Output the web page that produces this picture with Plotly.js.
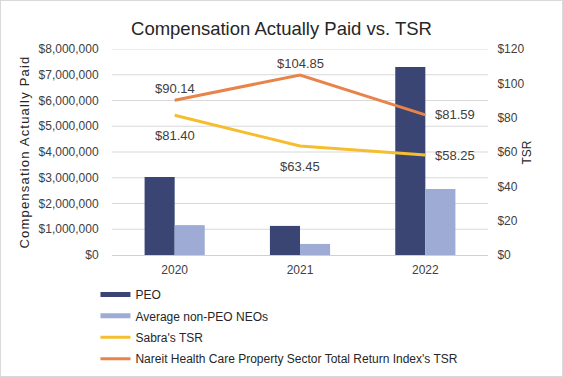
<!DOCTYPE html>
<html><head><meta charset="utf-8">
<script src="https://cdn.plot.ly/plotly-3.0.1.min.js"></script>
<style>html,body{margin:0;padding:0;background:#fff;}#wrap{width:561px;height:375px;border:1px solid #d9d9d9;}#chart{width:561px;height:375px;}
.ytitle{letter-spacing:1.2px;}</style>
</head><body><div id="wrap"><div id="chart"></div></div>
<script>
const years = ['2020','2021','2022'];
const peo = [3030000, 1130000, 7300000];
const nonPeo = [1160000, 430000, 2560000];
const sabraTSR = [81.40, 63.45, 58.25];
const nareitTSR = [90.14, 104.85, 81.59];
const seriesNames = ['PEO', 'Average non-PEO NEOs', "Sabra's TSR", "Nareit Health Care Property Sector Total Return Index's TSR"];
const colors = ['#3A4574', '#9EABD4', '#F5BE2E', '#E8834A'];
const leftTicks = [1000000, 2000000, 3000000, 4000000, 5000000, 6000000, 7000000, 8000000];
const fam = 'Liberation Sans, Arial, sans-serif';
const fmt = v => '$' + v.toFixed(2);
const noVals = years.map(() => null);

const traces = [
  {type:'bar', name:seriesNames[0], x:years, y:peo, marker:{color:colors[0]}, showlegend:false},
  {type:'bar', name:seriesNames[1], x:years, y:nonPeo, marker:{color:colors[1]}, showlegend:false},
  // legend swatches for the bar series (flat bars, as in the original)
  {type:'scatter', mode:'lines', name:seriesNames[0], x:years, y:noVals, line:{color:colors[0], width:5}, legendgroup:'a', legendrank:1},
  {type:'scatter', mode:'lines', name:seriesNames[1], x:years, y:noVals, line:{color:colors[1], width:5}, legendgroup:'b', legendrank:2},
  {type:'scatter', mode:'lines', name:seriesNames[2], x:years, y:sabraTSR, yaxis:'y2',
   line:{color:colors[2], width:3}, legendgroup:'c', legendrank:3},
  {type:'scatter', mode:'lines', name:seriesNames[3], x:years, y:nareitTSR, yaxis:'y2',
   line:{color:colors[3], width:3}, legendgroup:'d', legendrank:4}
];

const annotations = [];
function addLabels(vals, dy) {
  vals.forEach((v, i) => {
    const last = i === vals.length - 1;
    annotations.push({
      x: i, y: v, xref:'x', yref:'y2', text: fmt(v), showarrow:false,
      xanchor: last ? 'left' : 'center', yanchor:'middle',
      xshift: last ? 8 : 0, yshift: last ? 0 : dy,
      font:{size:13, color:'#404040', family:fam}
    });
  });
}
addLabels(nareitTSR, 12);
addLabels(sabraTSR, -20);
annotations.push({text:'TSR', xref:'paper', yref:'paper', x:1.105, y:0.5, xanchor:'center', yanchor:'middle',
  textangle:-90, showarrow:false, font:{size:12, color:'#262626', family:fam}});

// horizontal gridlines at the left-axis tick values
const shapes = leftTicks.map(t => ({type:'line', xref:'paper', yref:'y', x0:0, x1:1, y0:t, y1:t,
  line:{color:'#d9d9d9', width:1}, layer:'below'}));

const layout = {
  width:561, height:375,
  margin:{l:111, r:74, t:48, b:121, autoexpand:false},
  paper_bgcolor:'#fff', plot_bgcolor:'rgba(0,0,0,0)',
  font:{family:fam, color:'#404040', size:12},
  title:{text:'Compensation Actually Paid vs. TSR', font:{size:18.5, color:'#262626', family:fam}, x:0.5, xanchor:'center', y:0.926, yanchor:'middle'},
  barmode:'group', bargap:0.52, bargroupgap:0,
  xaxis:{type:'category', categoryorder:'array', categoryarray:years, range:[-0.5, 2.5], showgrid:false, showline:true, linecolor:'#d0d0d0',
    ticks:'outside', ticklen:4, tickcolor:'rgba(0,0,0,0)', tickfont:{size:12, color:'#404040'}},
  yaxis:{range:[0,8000000], dtick:1000000, tickformat:'$,.0f', showgrid:false, zeroline:false, showline:false,
    tickfont:{size:12, color:'#404040'}, ticklen:10, ticks:'outside', tickcolor:'rgba(0,0,0,0)',
    title:{text:'Compensation Actually Paid', font:{size:13, color:'#262626'}, standoff:5}},
  yaxis2:{overlaying:'y', side:'right', range:[0,120], dtick:20, tickprefix:'$', showgrid:false, zeroline:false,
    tickfont:{size:12, color:'#404040'}, ticks:'outside', ticklen:6, tickcolor:'rgba(0,0,0,0)'},
  annotations: annotations,
  shapes: shapes,
  showlegend:true,
  legend:{orientation:'v', x:-0.044, xanchor:'left', y:-0.121, yanchor:'top', font:{size:12, color:'#262626'},
    traceorder:'grouped', tracegroupgap:2.4, itemwidth:30}
};
Plotly.newPlot('chart', traces, layout, {displayModeBar:false, staticPlot:true});
</script></body></html>
